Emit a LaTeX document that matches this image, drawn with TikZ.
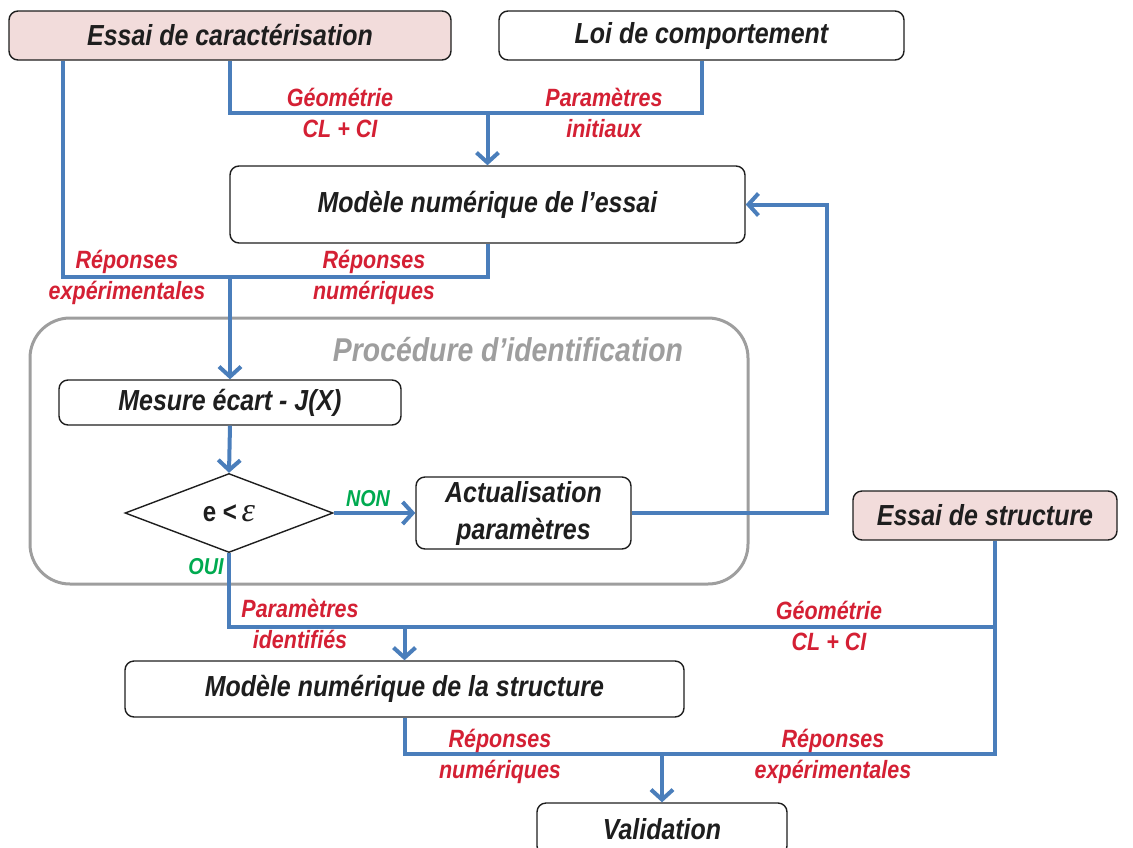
\documentclass[tikz,border=0pt]{standalone}
\usepackage{fontspec}
\setmainfont{Liberation Sans}[FakeStretch=0.86]
\newfontfamily\epsfont{Liberation Serif}
\usetikzlibrary{arrows.meta,shapes.geometric}
\definecolor{flowblue}{RGB}{74,126,187}
\definecolor{lblred}{RGB}{212,32,52}
\definecolor{okgreen}{RGB}{0,170,80}
\definecolor{pinkfill}{RGB}{242,220,219}
\definecolor{procgray}{RGB}{158,158,158}
\definecolor{inkblack}{RGB}{30,30,30}
\begin{document}
\begin{tikzpicture}[x=1pt,y=-1pt,
  box/.style={draw=inkblack, line width=1.4pt, rounded corners=9pt, fill=white,
    inner sep=0pt, align=center, text=inkblack,
    font=\fontsize{29}{37}\selectfont\bfseries\itshape},
  pinkbox/.style={box, fill=pinkfill},
  lbl/.style={text=lblred, align=center, inner sep=0pt,
    font=\fontsize{25}{31}\selectfont\bfseries\itshape},
  oklbl/.style={text=okgreen, inner sep=0pt,
    font=\fontsize{23}{26}\selectfont\bfseries\itshape},
  flow/.style={draw=flowblue, line width=4pt},
  arr/.style={flow, -{Straight Barb[length=10pt,width=22pt,line width=4pt]}},
  procbox/.style={draw=procgray, line width=3pt, rounded corners=40pt},
  proctitle/.style={text=procgray, font=\fontsize{33}{35}\selectfont\bfseries\itshape},
  decision/.style={draw=inkblack, line width=1.4pt, diamond, aspect=2.63,
    inner sep=0pt, minimum width=208, minimum height=79, fill=white,
    font=\fontsize{28}{28}\selectfont\bfseries, text=inkblack}
]
\useasboundingbox (0,0) rectangle (1133,847);

% procedure frame
\node[procbox, minimum width=718, minimum height=266] (proc) at (389,451) {};
\node[proctitle] (ptitle) at (508,350) {Procédure d’identification};

% boxes
\node[pinkbox, minimum width=442, minimum height=49] (ec) at (230,35.5) {Essai de caractérisation};
\node[box, minimum width=405, minimum height=49] (loi) at (701.5,35.5) {Loi de comportement};
\node[box, minimum width=515, minimum height=77] (mne) at (487.5,204.5) {Modèle numérique de l’essai};
\node[box, minimum width=342, minimum height=45] (mes) at (230,402.5) {Mesure écart - J(X)};
\node[decision] (dia) at (229,513) {\raisebox{-3pt}{e <\,{\epsfont\itshape\mdseries\fontsize{34}{34}\selectfont ε}}};
\node[box, minimum width=215, minimum height=72] (act) at (523.5,513) {Actualisation\\paramètres};
\node[pinkbox, minimum width=264, minimum height=49] (es) at (985,515.5) {Essai de structure};
\node[box, minimum width=559, minimum height=56] (mns) at (404.5,689) {Modèle numérique de la structure};
\node[box, minimum width=250, minimum height=52] (val) at (662,829) {Validation};

% junctions
\coordinate (j1) at (230,277);
\coordinate (j2) at (487.5,113);
\coordinate (j3) at (404.5,627);
\coordinate (j5) at (662,754);

% connectors
\draw[flow] ([xshift=-167]ec.south) |- (j1);
\draw[flow] (mne.south) |- (j1);
\draw[arr] (j1) -- (mes.north);
\draw[flow] (ec.south) |- (j2);
\draw[flow] (loi.south) |- (j2);
\draw[arr] (j2) -- (mne.north);
\draw[arr] (mes.south) -- (dia.north);
\draw[arr] (dia.east) -- (act.west);
\draw[arr] (act.east) -| ([xshift=81]mne.east) -- (mne.east);
\draw[flow] (dia.south) |- (j3);
\draw[flow] ([xshift=10]es.south) |- (j3);
\draw[arr] (j3) -- (mns.north);
\draw[flow] (mns.south) |- (j5);
\draw[flow] ([xshift=10]es.south) |- (j5);
\draw[arr] (j5) -- (val.north);

% labels
\node[lbl] (l1) at (340,113) {Géométrie\\CL + CI};
\node[lbl] (l2) at (604,113) {Paramètres\\initiaux};
\node[lbl] (l3) at (127,277) {Réponses\\expérimentales};
\node[lbl] (l4) at (374,277) {Réponses\\numériques};
\node[lbl] (l5) at (300,624) {Paramètres\\identifiés};
\node[lbl] (l6) at (829,626) {Géométrie\\CL + CI};
\node[lbl] (l7) at (500,756) {Réponses\\numériques};
\node[lbl] (l8) at (833,756) {Réponses\\expérimentales};
\node[oklbl] (non) at (368,499) {NON};
\node[oklbl] (oui) at (206,567) {OUI};
\end{tikzpicture}
\end{document}
